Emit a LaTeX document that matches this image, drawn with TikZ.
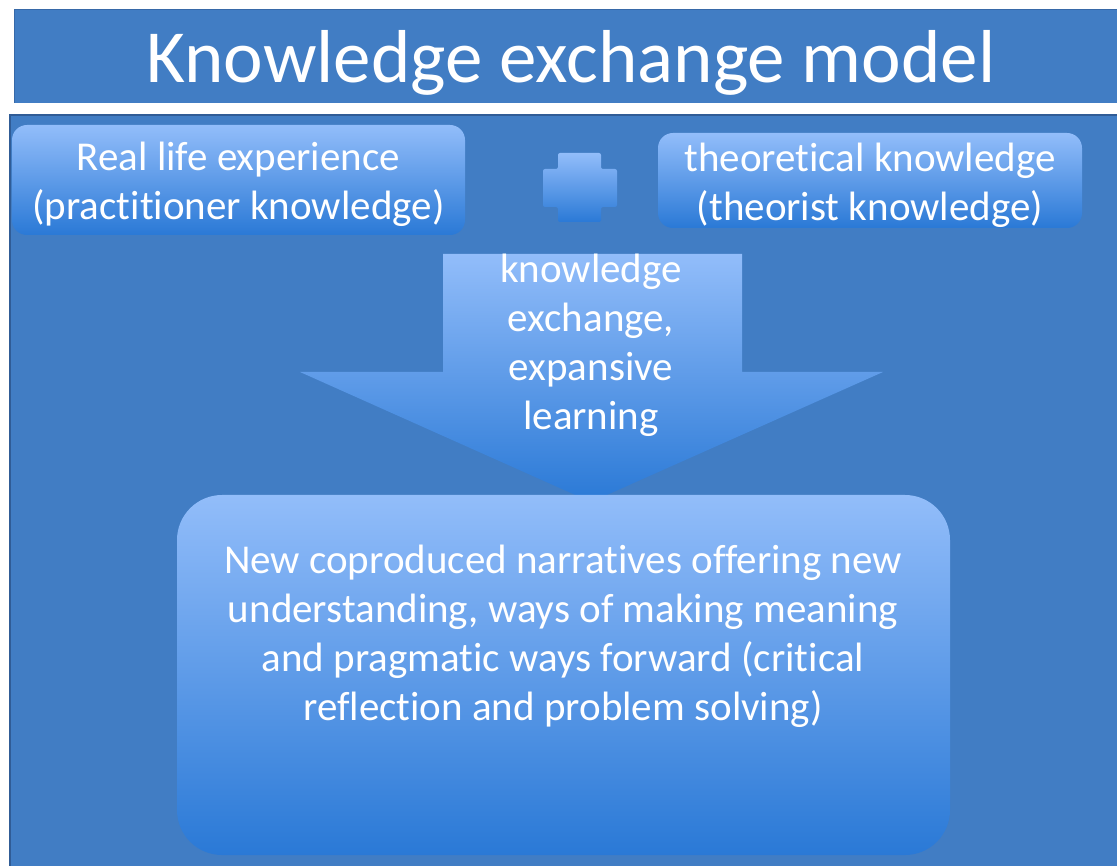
\documentclass[tikz,border=0pt]{standalone}
\usepackage{fontspec}
\setmainfont{Carlito}[Ligatures={NoCommon}]
\definecolor{bg}{RGB}{65,125,196}
\definecolor{bgedge}{RGB}{48,92,150}
\definecolor{gtop}{RGB}{146,189,250}
\definecolor{gbot}{RGB}{42,121,214}
\tikzset{
  boxtext/.style={text=white, align=center, font=\fontsize{41}{49}\selectfont},
  gradbox/.style={top color=gtop, bottom color=gbot, draw=none},
}
\begin{document}
\begin{tikzpicture}[x=1pt,y=-1pt]
\useasboundingbox (0,0) rectangle (1117,866);
\fill[white] (0,0) rectangle (1117,866);
% title band
\fill[bg] (14,10) rectangle (1117,103);
\draw[bgedge!60!bg, line width=1] (14,103) -- (14,10) -- (1117,10);
\node[text=white, anchor=base, font=\fontsize{75}{90}\selectfont] (title) at (571,83) {Knowledge exchange model};
% main area
\fill[bg] (10,115) rectangle (1117,866);
\draw[bgedge, line width=1.5] (10,866) -- (10,115) -- (1117,115);
% top boxes
\node[gradbox, rounded corners=15, minimum width=453, minimum height=110, inner sep=0] (left) at (238.5,180) {};
\node[boxtext] (lefttext) at (238.5,184) {Real life experience\\(practitioner knowledge)};
\node[gradbox, rounded corners=15, minimum width=424, minimum height=95, inner sep=0] (right) at (870,180.5) {};
\node[boxtext] (righttext) at (870,185) {theoretical knowledge\\(theorist knowledge)};
% plus sign
\path[gradbox, rounded corners=2] (558,153) -- (601,153) -- (601,169) -- (617,169) -- (617,207) -- (601,207) -- (601,222) -- (558,222) -- (558,207) -- (543,207) -- (543,169) -- (558,169) -- cycle;
\coordinate (plus) at (580,188);
% down arrow
\path[gradbox] (443,254) -- (742,254) -- (742,372) -- (883,372) -- (591,502) -- (300,372) -- (443,372) -- cycle;
\node[boxtext] (arrowtext) at (591,345) {knowledge\\exchange,\\expansive\\learning};
% bottom box
\node[gradbox, rounded corners=45, minimum width=773, minimum height=360, inner sep=0] (bottom) at (563.5,675) {};
\node[boxtext] (bottomtext) at (563,636) {New coproduced narratives offering new\\understanding, ways of making meaning\\and pragmatic ways forward (critical\\reflection and problem solving)};
\end{tikzpicture}
\end{document}
